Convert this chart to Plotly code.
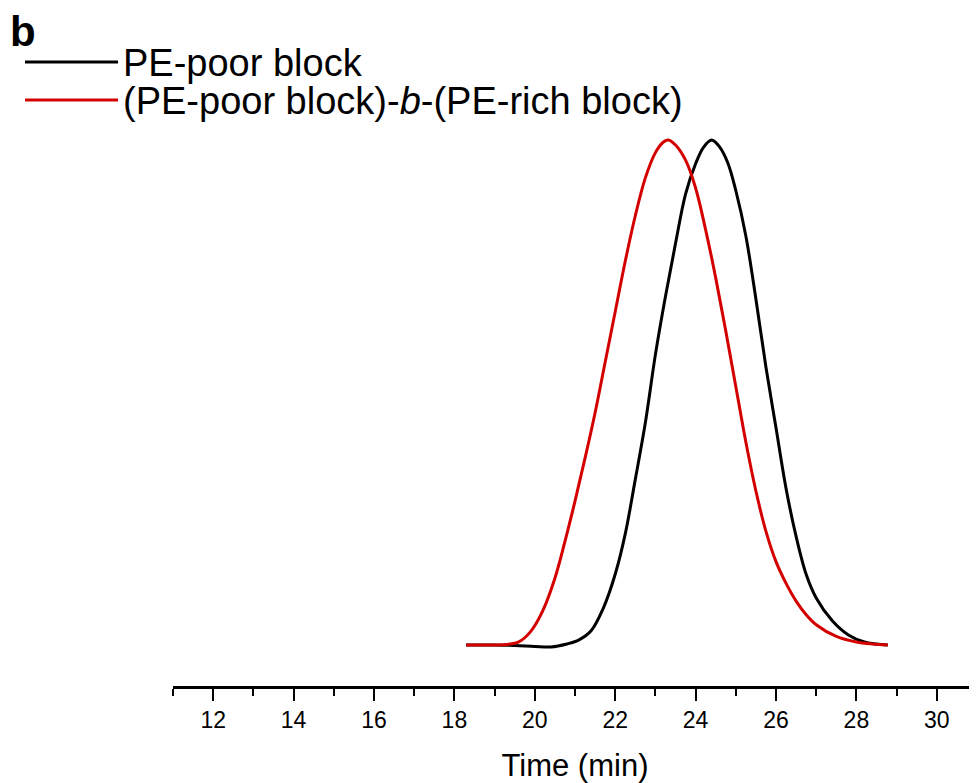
import plotly.graph_objects as go

# Black: PE-poor block
time_black = [18.29, 19.0, 19.5, 20.0, 20.4, 20.8, 21.1, 21.4, 21.7, 22.0, 22.25, 22.5,
              22.75, 23.0, 23.25, 23.5, 23.75, 24.0, 24.2, 24.4, 24.6, 24.8, 25.0, 25.25,
              25.5, 25.75, 26.0, 26.25, 26.5, 26.75, 27.0, 27.4, 27.8, 28.2, 28.5, 28.78]
signal_black = [0.0, 0.0, -0.001, -0.003, -0.004, 0.002, 0.010, 0.028, 0.072, 0.140, 0.220,
                0.328, 0.440, 0.575, 0.690, 0.795, 0.893, 0.953, 0.986, 1.0, 0.986, 0.955,
                0.900, 0.810, 0.685, 0.550, 0.430, 0.310, 0.215, 0.140, 0.093, 0.048, 0.020,
                0.006, 0.002, 0.0]

# Red: (PE-poor block)-b-(PE-rich block)
time_red = [18.29, 18.8, 19.3, 19.6, 19.9, 20.2, 20.5, 20.75, 21.0, 21.25, 21.5, 21.75,
            22.0, 22.25, 22.5, 22.75, 23.0, 23.2, 23.32, 23.5, 23.75, 24.0, 24.25, 24.5,
            24.75, 25.0, 25.25, 25.5, 25.75, 26.0, 26.25, 26.5, 26.75, 27.0, 27.5, 28.0,
            28.4, 28.78]
signal_red = [0.0, 0.0, 0.001, 0.006, 0.027, 0.068, 0.132, 0.205, 0.285, 0.370, 0.460,
              0.560, 0.660, 0.760, 0.850, 0.925, 0.975, 0.996, 1.0, 0.990, 0.960, 0.905,
              0.822, 0.727, 0.622, 0.512, 0.402, 0.305, 0.225, 0.165, 0.122, 0.087, 0.060,
              0.040, 0.017, 0.006, 0.002, 0.0]

series_names = ["PE-poor block", "(PE-poor block)-<i>b</i>-(PE-rich block)"]
series_colors = ["#000000", "#d40000"]
tick_values = [12, 14, 16, 18, 20, 22, 24, 26, 28, 30]

OFF = 8  # page body margin
W, H = 977 - OFF, 783 - OFF
ML, MR, MT, MB = 173 - OFF, 0, 130 - OFF, 97
pw, ph = W - ML - MR, H - MT - MB

def px(x):  # page pixel -> paper x
    return (x - OFF - ML) / pw

def py(y):  # page pixel -> paper y
    return (H - MB - (y - OFF)) / ph

fig = go.Figure()
fig.add_trace(go.Scatter(x=time_black, y=signal_black, mode="lines", line_shape="spline",
                         line=dict(color=series_colors[0], width=3), name=series_names[0],
                         showlegend=False))
fig.add_trace(go.Scatter(x=time_red, y=signal_red, mode="lines", line_shape="spline",
                         line=dict(color=series_colors[1], width=3), name=series_names[1],
                         showlegend=False))

font_family = "Liberation Sans, Arial, sans-serif"

# manual legend
legend_rows = [62, 100]
for name, color, yrow in zip(series_names, series_colors, legend_rows):
    fig.add_shape(type="line", xref="paper", yref="paper",
                  x0=px(25), x1=px(118), y0=py(yrow), y1=py(yrow),
                  line=dict(color=color, width=3))
    fig.add_annotation(xref="paper", yref="paper", x=px(122), y=py(yrow + 1),
                       xanchor="left", yanchor="middle", text=name, showarrow=False,
                       borderpad=0,
                       font=dict(family=font_family, size=38, color="black"))

fig.add_annotation(xref="paper", yref="paper", x=px(8), y=py(32),
                   xanchor="left", yanchor="middle", text="<b>b</b>", showarrow=False,
                   font=dict(family=font_family, size=42, color="black"))

fig.update_layout(
    width=W, height=H,
    margin=dict(l=ML, r=MR, t=MT, b=MB, pad=0),
    plot_bgcolor="white", paper_bgcolor="white",
    xaxis=dict(range=[11, 31], tickvals=tick_values, showgrid=False, zeroline=False,
               showline=True, linecolor="black", linewidth=2.5,
               ticks="outside", ticklen=12, tickwidth=2, tickcolor="black",
               minor=dict(dtick=1, ticks="outside", ticklen=7, tickwidth=1.5,
                          tickcolor="black", showgrid=False),
               tickfont=dict(family=font_family, size=23, color="black"),
               title=dict(text="Time (min)", standoff=22,
                          font=dict(family=font_family, size=31, color="black"))),
    yaxis=dict(range=[-0.0812, 1.0198], visible=False),
    showlegend=False,
)

fig.write_html("out.html")
